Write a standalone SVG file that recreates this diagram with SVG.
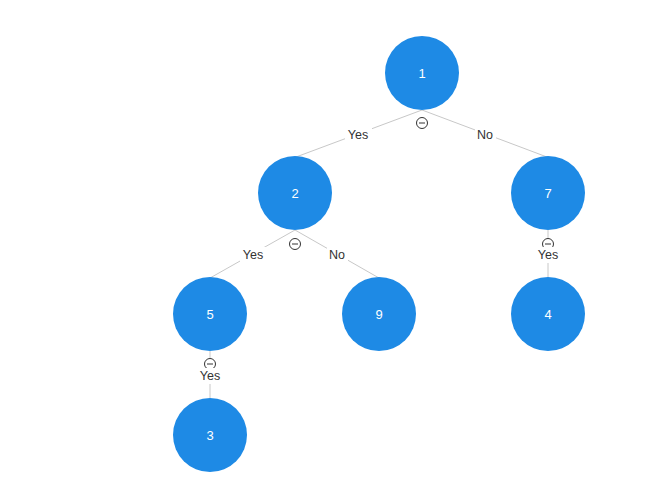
<svg xmlns="http://www.w3.org/2000/svg" width="661" height="493" viewBox="0 0 661 493">
<style>
.node circle{fill:#1e8ae5;}
.node text{fill:#fff;font-family:"Liberation Sans",Arial,sans-serif;font-size:13px;text-anchor:middle;dominant-baseline:central;}
.edge line{stroke:#c8c8c8;stroke-width:1;}
.lbl rect{fill:#fff;}
.lbl text{fill:#333;font-family:"Liberation Sans",Arial,sans-serif;font-size:12.5px;text-anchor:middle;dominant-baseline:central;}
.tog circle{fill:#fff;stroke:#333;stroke-width:1;}
.tog line{stroke:#333;stroke-width:1;}
</style>
<rect width="661" height="493" fill="#fff"/>
<g id="connectors">
  <g class="edge">
    <line x1="422" y1="110" x2="296" y2="157"/>
    <line x1="422" y1="110" x2="547" y2="157"/>
    <line x1="295" y1="230" x2="210" y2="278"/>
    <line x1="295" y1="230" x2="379" y2="278"/>
    <line x1="548" y1="230" x2="548" y2="278"/>
    <line x1="210" y1="351" x2="210" y2="399"/>
  </g>
  <g class="tog">
    <circle cx="422" cy="123" r="5.5"/><line x1="419" y1="123" x2="425" y2="123"/>
    <circle cx="295" cy="244" r="5.5"/><line x1="292" y1="244" x2="298" y2="244"/>
    <circle cx="548" cy="244" r="5.5"/><line x1="545" y1="244" x2="551" y2="244"/>
    <circle cx="210" cy="364" r="5.5"/><line x1="207" y1="364" x2="213" y2="364"/>
  </g>
  <g class="lbl">
    <rect x="345" y="127" width="27" height="16"/><text x="358" y="135">Yes</text>
    <rect x="475" y="127" width="21" height="16"/><text x="485" y="135">No</text>
    <rect x="240" y="247" width="27" height="16"/><text x="253" y="255">Yes</text>
    <rect x="327" y="247" width="21" height="16"/><text x="337" y="255">No</text>
    <rect x="535" y="247" width="27" height="16"/><text x="548" y="255">Yes</text>
    <rect x="197" y="368" width="27" height="16"/><text x="210" y="376">Yes</text>
  </g>
</g>
<g id="node-1" class="node"><circle cx="422" cy="73" r="37"/><text x="422" y="73">1</text></g>
<g id="node-2" class="node"><circle cx="295" cy="193" r="37"/><text x="295" y="193">2</text></g>
<g id="node-7" class="node"><circle cx="548" cy="193" r="37"/><text x="548" y="193">7</text></g>
<g id="node-5" class="node"><circle cx="210" cy="314" r="37"/><text x="210" y="314">5</text></g>
<g id="node-9" class="node"><circle cx="379" cy="314" r="37"/><text x="379" y="314">9</text></g>
<g id="node-4" class="node"><circle cx="548" cy="314" r="37"/><text x="548" y="314">4</text></g>
<g id="node-3" class="node"><circle cx="210" cy="435" r="37"/><text x="210" y="435">3</text></g>
</svg>
